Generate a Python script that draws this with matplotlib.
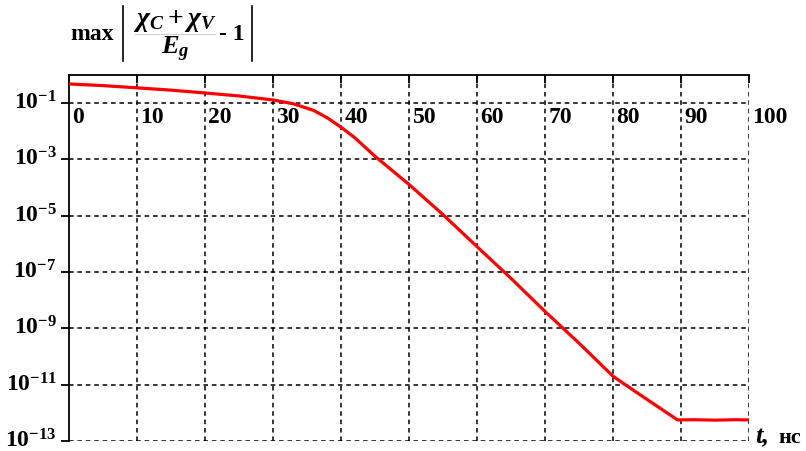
import matplotlib.pyplot as plt
import numpy as np
from matplotlib.lines import Line2D
from matplotlib.transforms import ScaledTranslation
from matplotlib.ticker import FixedLocator, NullLocator

plt.rcParams['font.family'] = ['Liberation Serif', 'DejaVu Serif']
plt.rcParams['font.weight'] = 'bold'
plt.rcParams['mathtext.fontset'] = 'custom'
plt.rcParams['mathtext.rm'] = 'Liberation Serif:bold'
plt.rcParams['mathtext.bf'] = 'Liberation Serif:bold'
plt.rcParams['mathtext.it'] = 'Liberation Serif:italic:bold'

# time, ns
t = [0, 5, 10, 15, 20, 25, 30, 33, 36, 38, 40, 42, 45, 50, 55, 60, 65, 70,
     75, 80, 82, 85, 89.5, 92, 95, 98, 100]
# max |(chi_C + chi_V)/E_g - 1|
err = [0.48, 0.42, 0.35, 0.29, 0.23, 0.18, 0.13, 0.095, 0.055, 0.03, 1.4e-2,
       6e-3, 1.3e-3, 1.3e-4, 1.1e-5, 8e-7, 6e-8, 4e-9, 3e-10, 2e-11, 9.3e-12,
       3.0e-12, 5.6e-13, 5.7e-13, 5.5e-13, 5.7e-13, 5.6e-13]

x_ticks = [0, 10, 20, 30, 40, 50, 60, 70, 80, 90, 100]
y_exps = [-1, -3, -5, -7, -9, -11, -13]

W, H = 806, 451
fig = plt.figure(figsize=(W / 100, H / 100), dpi=100)
ax = fig.add_axes([69 / W, 1 - 441 / H, 680 / W, 366 / H])

ax.set_yscale('log')
ax.set_xlim(0, 100)
ax.set_ylim(1e-13, 1.0)

grid_kw = dict(color='black', linewidth=1.1, linestyle=(0, (3, 2.5)), zorder=1)
for e in y_exps:
    ax.axhline(10.0 ** e, **grid_kw)
for x in x_ticks[1:]:
    ax.axvline(x, **grid_kw)

ax.plot(t, err, color='#ff0000', linewidth=2.3, zorder=3)

for side in ['bottom', 'right']:
    ax.spines[side].set_visible(False)
for side in ['left', 'top']:
    ax.spines[side].set_linewidth(1.3)

# y ticks outward on the left, one every two decades
ax.yaxis.set_major_locator(FixedLocator([10.0 ** e for e in y_exps]))
ax.yaxis.set_minor_locator(NullLocator())
ax.set_yticklabels([r'$\mathrm{10^{%d}}$' % e for e in y_exps])
ax.tick_params(axis='y', direction='out', length=6, width=1.3, labelsize=17, pad=3)
lift = ScaledTranslation(0, 2 / 72, fig.dpi_scale_trans)
for lbl in ax.get_yticklabels():
    lbl.set_transform(lbl.get_transform() + lift)

# x ticks on the top edge, labels written along the 1e-1 line
ax.xaxis.set_major_locator(FixedLocator(x_ticks))
ax.xaxis.set_minor_locator(NullLocator())
ax.tick_params(axis='x', bottom=False, top=True, labelbottom=False, labeltop=False,
               direction='in', length=6, width=1.3)
for x in x_ticks:
    ax.annotate(str(x), (x, 1e-1), xytext=(2.5, -3), textcoords='offset points',
                ha='left', va='top', fontsize=17, fontweight='bold',
                annotation_clip=False)

# axis name at the end of the time axis
ax.annotate('t,', (100, 1e-13), xytext=(4.5, -1.5), textcoords='offset points',
            ha='left', va='baseline', fontsize=19, fontweight='bold',
            fontstyle='italic', annotation_clip=False)
ax.annotate('нс', (100, 1e-13), xytext=(21.5, -1.5), textcoords='offset points',
            ha='left', va='baseline', fontsize=16, fontweight='bold',
            annotation_clip=False)

# y-axis title: max |(chi_C + chi_V)/E_g - 1|
def fx(px):
    return px / W

def fy(py):
    return 1 - py / H

fig.text(fx(70), fy(40), 'max', ha='left', va='baseline', fontsize=17, fontweight='bold')
fig.text(fx(175), fy(26), r'$\chi_C + \chi_V$', ha='center', va='baseline', fontsize=20)
fig.text(fx(175), fy(54), r'$E_g$', ha='center', va='baseline', fontsize=19)
fig.text(fx(219), fy(40), '- 1', ha='left', va='baseline', fontsize=17, fontweight='bold')
fig.add_artist(Line2D([fx(135), fx(215)], [fy(34), fy(34)], color='#d0d0d0', linewidth=0.8))
for bx in [123, 252]:
    fig.add_artist(Line2D([fx(bx), fx(bx)], [fy(6), fy(61)], color='black', linewidth=1.2))

fig.savefig('out.png', dpi=100)
